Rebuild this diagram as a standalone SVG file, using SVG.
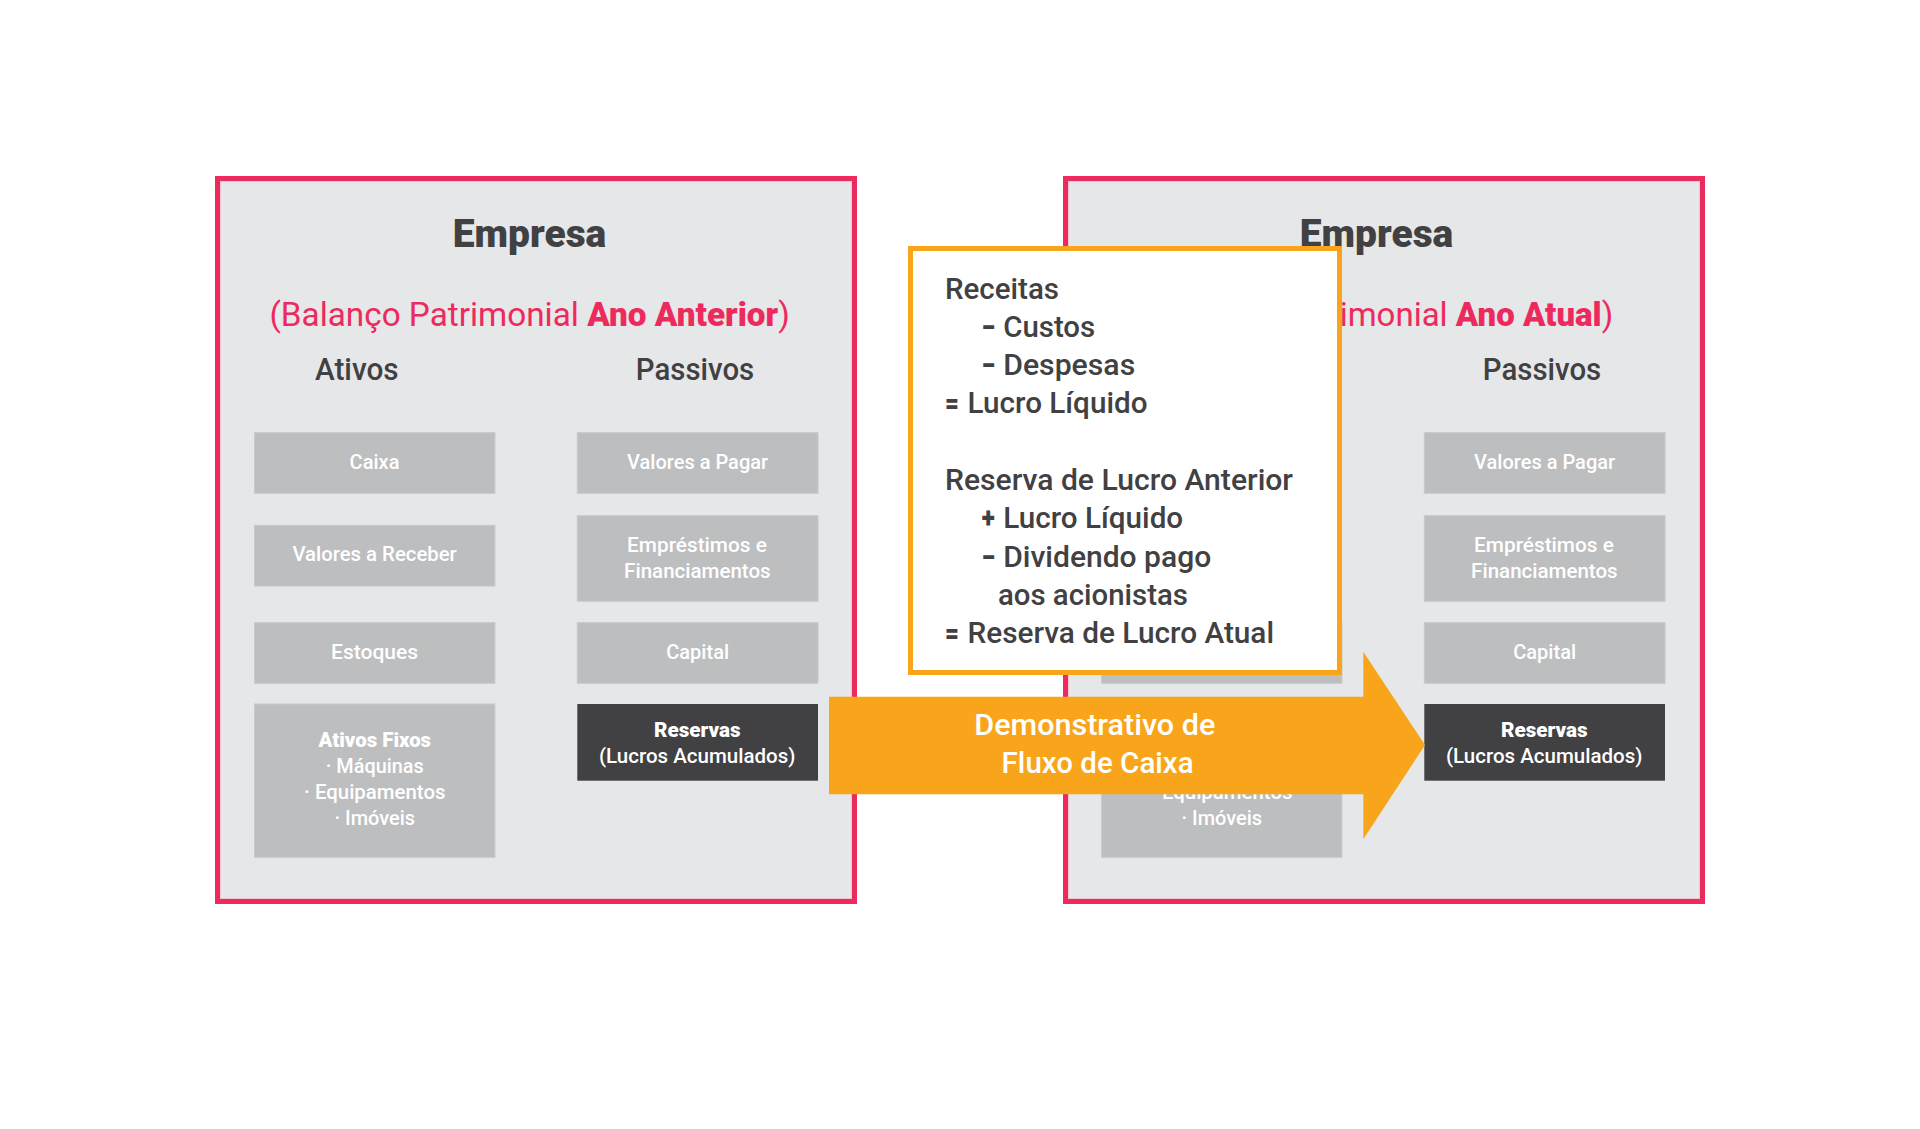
<svg xmlns="http://www.w3.org/2000/svg" width="1920" height="1129" viewBox="0 0 1920 1129">
<style>
text{font-family:Roboto,"Liberation Sans",Arial,sans-serif}
.panel{fill:#e6e7e8}
.border{fill:none;stroke:#ed2a5d;stroke-width:5}
.inner{fill:none;stroke:#efc6d0;stroke-width:1}
.box{fill:#bdbec0;stroke:#c7c8ca;stroke-width:1}
.dark{fill:#414042}
.title{font-size:38px;font-weight:900;fill:#414042}
.sub{font-size:33.5px;font-weight:400;fill:#ed2a5d}
.subb{font-weight:900}
.col{font-size:30.5px;font-weight:500;fill:#414042}
.bt{font-size:21px;font-weight:500;fill:#ffffff}
.btb{font-size:21px;font-weight:900;fill:#ffffff}
.ob{font-size:30px;font-weight:500;fill:#414042}
.op{font-weight:900}
.at{font-size:30px;font-weight:500;fill:#ffffff}
</style>

<!-- Left panel -->
<g id="panel-anterior">
  <rect class="panel" x="217.5" y="178.5" width="637" height="723"/>
  <rect class="inner" x="220.5" y="181.5" width="631" height="717"/>
  <rect class="border" x="217.5" y="178.5" width="637" height="723"/>
  <text class="title" x="452.8" y="247.3" textLength="153.5" lengthAdjust="spacingAndGlyphs">Empresa</text>
  <text class="sub" x="269.4" y="325.7" textLength="520.4" lengthAdjust="spacingAndGlyphs">(Balanço Patrimonial <tspan class="subb">Ano Anterior</tspan>)</text>
  <text class="col" x="315" y="380" textLength="83.6" lengthAdjust="spacingAndGlyphs">Ativos</text>
  <text class="col" x="635.8" y="380" textLength="118.4" lengthAdjust="spacingAndGlyphs">Passivos</text>
</g>
<g id="l-caixa">
  <rect class="box" x="254.6" y="432.7" width="240.3" height="60.6"/>
  <text class="bt" x="349.6" y="468.5" textLength="49.9" lengthAdjust="spacingAndGlyphs">Caixa</text>
</g>
<g id="l-receber">
  <rect class="box" x="254.6" y="525.3" width="240.3" height="60.7"/>
  <text class="bt" x="292.4" y="561" textLength="164.4" lengthAdjust="spacingAndGlyphs">Valores a Receber</text>
</g>
<g id="l-estoques">
  <rect class="box" x="254.6" y="622.7" width="240.3" height="60.6"/>
  <text class="bt" x="331" y="658.5" textLength="87.2" lengthAdjust="spacingAndGlyphs">Estoques</text>
</g>
<g id="l-ativosfixos">
  <rect class="box" x="254.6" y="704" width="240.3" height="153.3"/>
  <text class="btb" x="318.4" y="746.7" textLength="112.7" lengthAdjust="spacingAndGlyphs">Ativos Fixos</text>
  <text class="bt" x="325.8" y="772.7" textLength="98" lengthAdjust="spacingAndGlyphs">· Máquinas</text>
  <text class="bt" x="304.1" y="799" textLength="141.4" lengthAdjust="spacingAndGlyphs">· Equipamentos</text>
  <text class="bt" x="334.4" y="825.3" textLength="80.7" lengthAdjust="spacingAndGlyphs">· Imóveis</text>
</g>
<g id="l-pagar">
  <rect class="box" x="577.3" y="432.7" width="240.7" height="60.6"/>
  <text class="bt" x="627.1" y="468.5" textLength="141" lengthAdjust="spacingAndGlyphs">Valores a Pagar</text>
</g>
<g id="l-emprestimos">
  <rect class="box" x="577.3" y="515.7" width="240.7" height="85.6"/>
  <text class="bt" x="627.1" y="552.3" textLength="139.7" lengthAdjust="spacingAndGlyphs">Empréstimos e</text>
  <text class="bt" x="624.1" y="578.3" textLength="146.6" lengthAdjust="spacingAndGlyphs">Financiamentos</text>
</g>
<g id="l-capital">
  <rect class="box" x="577.3" y="622.7" width="240.7" height="60.6"/>
  <text class="bt" x="666.2" y="658.5" textLength="62.9" lengthAdjust="spacingAndGlyphs">Capital</text>
</g>
<g id="l-reservas">
  <rect class="dark" x="577.3" y="704" width="240.7" height="76.7"/>
  <text class="btb" x="654" y="737.3" textLength="86.7" lengthAdjust="spacingAndGlyphs">Reservas</text>
  <text class="bt" x="599" y="763.3" textLength="196.4" lengthAdjust="spacingAndGlyphs">(Lucros Acumulados)</text>
</g>

<!-- Right panel -->
<g id="panel-atual">
  <rect class="panel" x="1065.5" y="178.5" width="637" height="723"/>
  <rect class="inner" x="1068.5" y="181.5" width="631" height="717"/>
  <rect class="border" x="1065.5" y="178.5" width="637" height="723"/>
  <text class="title" x="1299.8" y="247.3" textLength="153.5" lengthAdjust="spacingAndGlyphs">Empresa</text>
  <text class="sub" x="1140.8" y="325.7" textLength="472.4" lengthAdjust="spacingAndGlyphs">(Balanço Patrimonial <tspan class="subb">Ano Atual</tspan>)</text>
  <text class="col" x="1482.8" y="380" textLength="118.4" lengthAdjust="spacingAndGlyphs">Passivos</text>
</g>
<g id="r-estoques">
  <rect class="box" x="1101.6" y="622.7" width="240.3" height="60.6"/>
</g>
<g id="r-ativosfixos">
  <rect class="box" x="1101.6" y="704" width="240.3" height="153.3"/>
  <text class="bt" x="1151.1" y="799" textLength="141.4" lengthAdjust="spacingAndGlyphs">· Equipamentos</text>
  <text class="bt" x="1181.4" y="825.3" textLength="80.7" lengthAdjust="spacingAndGlyphs">· Imóveis</text>
</g>
<g id="r-pagar">
  <rect class="box" x="1424.3" y="432.7" width="240.7" height="60.6"/>
  <text class="bt" x="1474.1" y="468.5" textLength="141" lengthAdjust="spacingAndGlyphs">Valores a Pagar</text>
</g>
<g id="r-emprestimos">
  <rect class="box" x="1424.3" y="515.7" width="240.7" height="85.6"/>
  <text class="bt" x="1474.1" y="552.3" textLength="139.7" lengthAdjust="spacingAndGlyphs">Empréstimos e</text>
  <text class="bt" x="1471.1" y="578.3" textLength="146.6" lengthAdjust="spacingAndGlyphs">Financiamentos</text>
</g>
<g id="r-capital">
  <rect class="box" x="1424.3" y="622.7" width="240.7" height="60.6"/>
  <text class="bt" x="1513.2" y="658.5" textLength="62.9" lengthAdjust="spacingAndGlyphs">Capital</text>
</g>
<g id="r-reservas">
  <rect class="dark" x="1424.3" y="704" width="240.7" height="76.7"/>
  <text class="btb" x="1501" y="737.3" textLength="86.7" lengthAdjust="spacingAndGlyphs">Reservas</text>
  <text class="bt" x="1446" y="763.3" textLength="196.4" lengthAdjust="spacingAndGlyphs">(Lucros Acumulados)</text>
</g>

<!-- Formula box -->
<g id="formula">
  <rect x="910.5" y="248.5" width="429" height="424" fill="#ffffff" stroke="#f8a51c" stroke-width="5"/>
  <text class="ob" x="945" y="298.5" textLength="114" lengthAdjust="spacingAndGlyphs">Receitas</text>
  <text class="ob"><tspan class="op" x="981.8" y="336.7" textLength="13" lengthAdjust="spacingAndGlyphs">–</tspan><tspan x="1003.2" y="336.7" textLength="92" lengthAdjust="spacingAndGlyphs">Custos</tspan></text>
  <text class="ob"><tspan class="op" x="981.8" y="375" textLength="13" lengthAdjust="spacingAndGlyphs">–</tspan><tspan x="1003.2" y="375" textLength="132" lengthAdjust="spacingAndGlyphs">Despesas</tspan></text>
  <text class="ob"><tspan class="op" x="945" y="413.3" textLength="14" lengthAdjust="spacingAndGlyphs">=</tspan><tspan x="967.5" y="413.3" textLength="180" lengthAdjust="spacingAndGlyphs">Lucro Líquido</tspan></text>
  <text class="ob" x="945" y="490" textLength="348" lengthAdjust="spacingAndGlyphs">Reserva de Lucro Anterior</text>
  <text class="ob"><tspan class="op" x="981.8" y="528.3" textLength="13" lengthAdjust="spacingAndGlyphs">+</tspan><tspan x="1003.2" y="528.3" textLength="180" lengthAdjust="spacingAndGlyphs">Lucro Líquido</tspan></text>
  <text class="ob"><tspan class="op" x="981.8" y="566.7" textLength="13" lengthAdjust="spacingAndGlyphs">–</tspan><tspan x="1003.2" y="566.7" textLength="208" lengthAdjust="spacingAndGlyphs">Dividendo pago</tspan></text>
  <text class="ob" x="997.9" y="605" textLength="190" lengthAdjust="spacingAndGlyphs">aos acionistas</text>
  <text class="ob"><tspan class="op" x="945" y="643.3" textLength="14" lengthAdjust="spacingAndGlyphs">=</tspan><tspan x="967.5" y="643.3" textLength="306.5" lengthAdjust="spacingAndGlyphs">Reserva de Lucro Atual</tspan></text>
</g>

<!-- Connector -->
<g id="connectors">
  <polygon points="829,696.7 1363.3,696.7 1363.3,651.7 1425,745 1363.3,839.3 1363.3,794.3 829,794.3" fill="#f8a51c"/>
  <text class="at" x="974.3" y="735" textLength="241" lengthAdjust="spacingAndGlyphs">Demonstrativo de</text>
  <text class="at" x="1001.6" y="773.3" textLength="192" lengthAdjust="spacingAndGlyphs">Fluxo de Caixa</text>
</g>
</svg>
